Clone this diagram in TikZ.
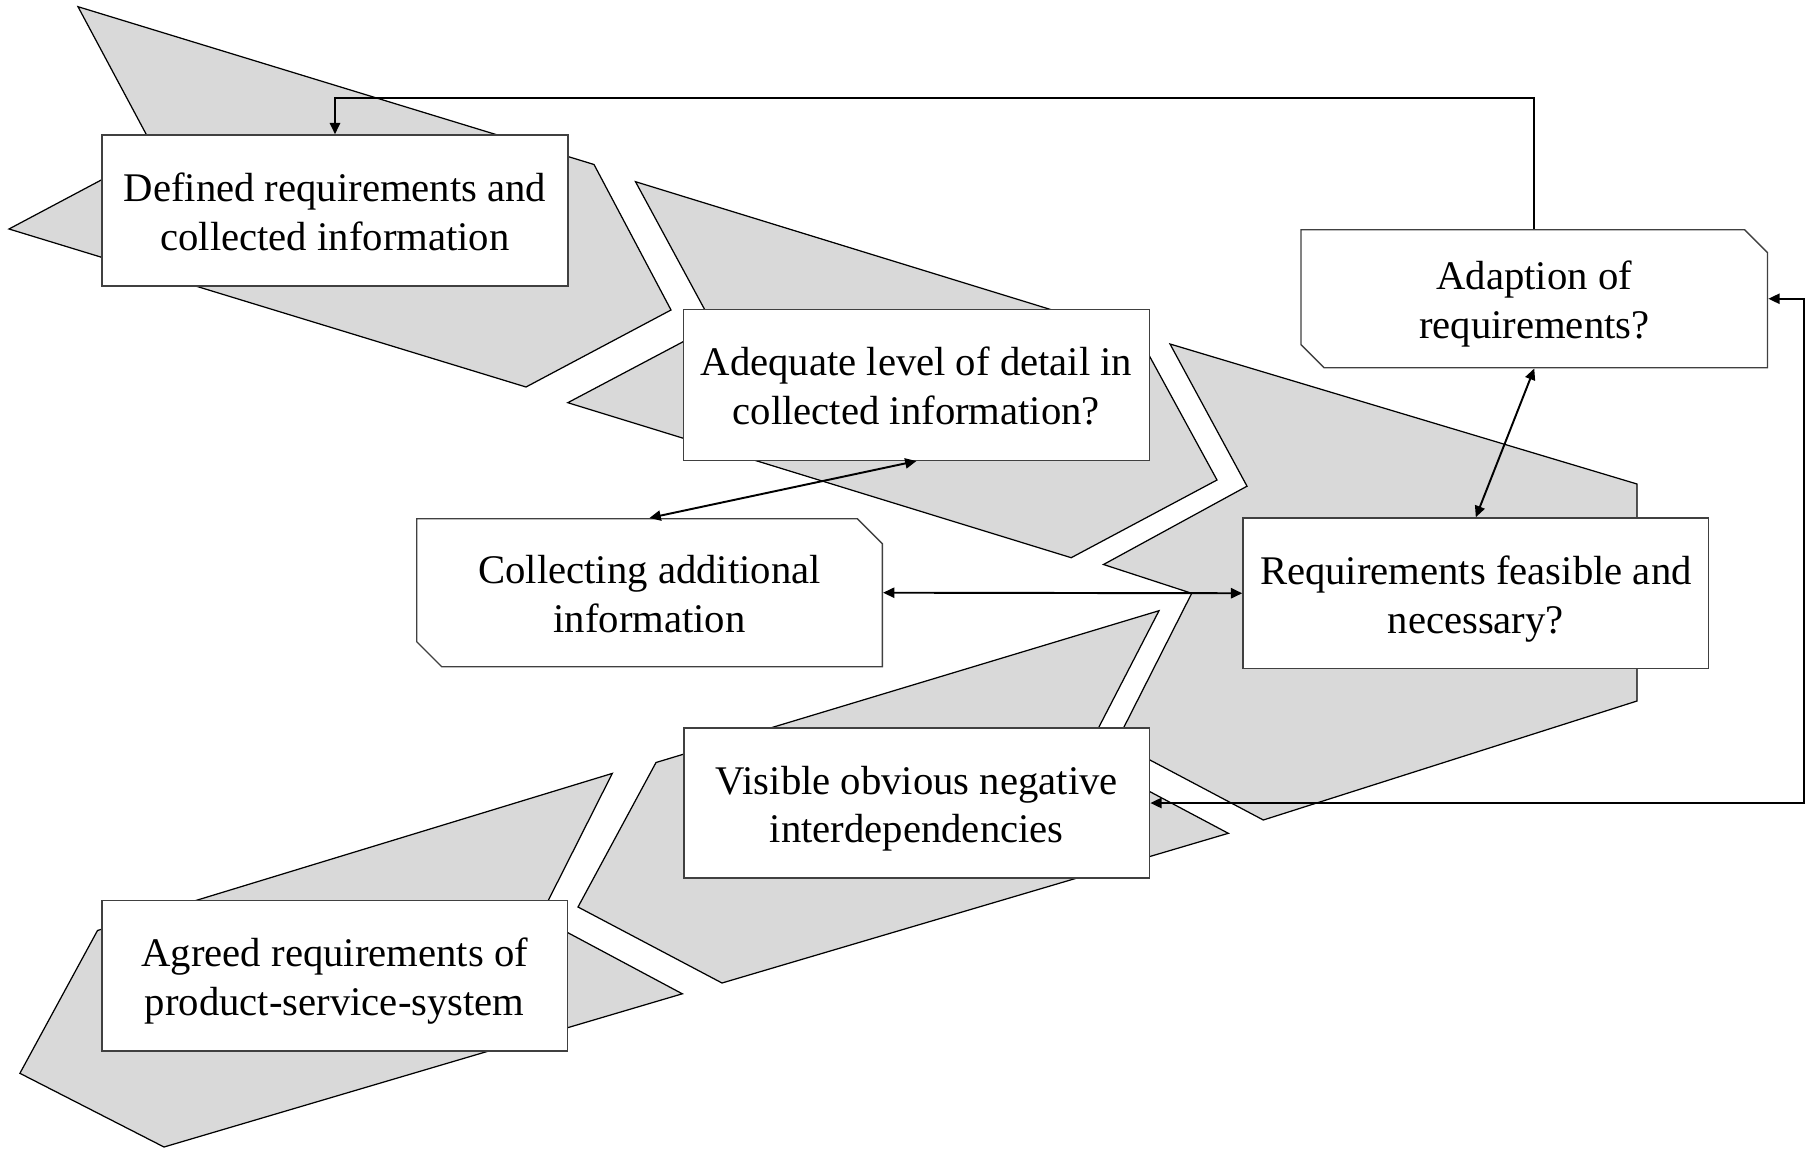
\documentclass[tikz,border=0pt]{standalone}
\usepackage{fontspec}
\setmainfont{Liberation Serif}
\usetikzlibrary{arrows.meta}
\definecolor{chevfill}{HTML}{D9D9D9}
\definecolor{boxline}{HTML}{404040}
\newcommand\twolines[2]{\rule{0pt}{11.8pt}#1\\#2\rule[-3pt]{0pt}{3pt}}
\begin{document}
\begin{tikzpicture}[x=0.01cm,y=-0.01cm,
  chev/.style={fill=chevfill,draw=black,line width=0.35pt,line join=miter},
  procbox/.style={draw=boxline,fill=white,line width=0.4pt,minimum width=4.655cm,minimum height=1.5cm,inner sep=0pt,align=center,font=\fontsize{11.57pt}{13.9pt}\selectfont},
  snipbox/.style={procbox,draw=none,fill=none},
  snipline/.style={draw=boxline,fill=white,line width=0.4pt},
  conn/.style={draw=black,line width=0.55pt,arrows={-Triangle[length=3.2pt,width=2.9pt]}},
  conn2/.style={draw=black,line width=0.55pt,arrows={Triangle[length=3.2pt,width=2.9pt]-Triangle[length=3.2pt,width=2.9pt]}}
]
\useasboundingbox (0,0) rectangle (1810,1152);

% chevrons
\path[chev] (78,6.7) -- (594,164.5) -- (671,310) -- (526,387) -- (9,229) -- (155.3,151.3) -- cycle;
\path[chev] (635.5,181.7) -- (1138.9,336.7) -- (1217,480) -- (1071.2,557.7) -- (567.8,402.7) -- (713.4,325.7) -- cycle;
\path[chev] (1170,344) -- (1637,484) -- (1637,701) -- (1263.3,820) -- (1116.3,742.2) -- (1191.7,593.3) -- (1103.5,564.5) -- (1247,486.2) -- cycle;
\path[chev] (1159,610.7) -- (656,762.5) -- (578,907) -- (722,983) -- (1228.3,833.3) -- (1083.7,756.5) -- cycle;
\path[chev] (612.3,773.4) -- (97.5,930.5) -- (19.9,1073.3) -- (164,1147) -- (682.3,993.8) -- (539.6,917.6) -- cycle;

% boxes
\node[procbox,minimum height=1.51cm] (b1) at (335,210.5) {\twolines{Defined requirements and}{collected information}};
\node[procbox,minimum height=1.51cm] (b2) at (916.4,384.8) {\twolines{Adequate level of detail in}{collected information?}};
\node[procbox,minimum height=1.505cm] (req) at (1475.8,593.25) {\twolines{Requirements feasible and}{necessary?}};
\node[procbox] (vis) at (916.75,803) {\twolines{Visible obvious negative}{interdependencies}};
\node[procbox,minimum height=1.505cm] (agreed) at (334.75,975.75) {\twolines{Agreed requirements of}{product-service-system}};

\coordinate (collc) at (649.5,592.7);
\filldraw[snipline,shift={(collc)}] (-232.8,-74) -- (207.8,-74) -- (232.8,-49) -- (232.8,74) -- (-207.8,74) -- (-232.8,49) -- cycle;
\node[snipbox,minimum height=1.48cm] (coll) at (collc) {\twolines{Collecting additional}{information}};

\coordinate (adaptc) at (1534.25,298.75);
\filldraw[snipline,shift={(adaptc)}] (-233.25,-69) -- (210.25,-69) -- (233.25,-46) -- (233.25,69) -- (-210.25,69) -- (-233.25,46) -- cycle;
\node[snipbox,minimum width=4.665cm,minimum height=1.38cm] (adapt) at (adaptc) {\twolines{Adaption of}{requirements?}};

% connectors
\coordinate (topy) at (0,97.9);
\coordinate (rightx) at (1803.5,0);
\draw[conn] (adapt.north) -- (adapt.north |- topy) -| (b1.north);
\draw[conn2] (b2.south) -- (coll.north);
\draw[conn2] (coll.east) -- (req.west);
\draw[conn2] (adapt.south) -- (req.north);
\draw[conn2] (vis.east) -- (vis.east -| rightx) |- (adapt.east);
\end{tikzpicture}
\end{document}
